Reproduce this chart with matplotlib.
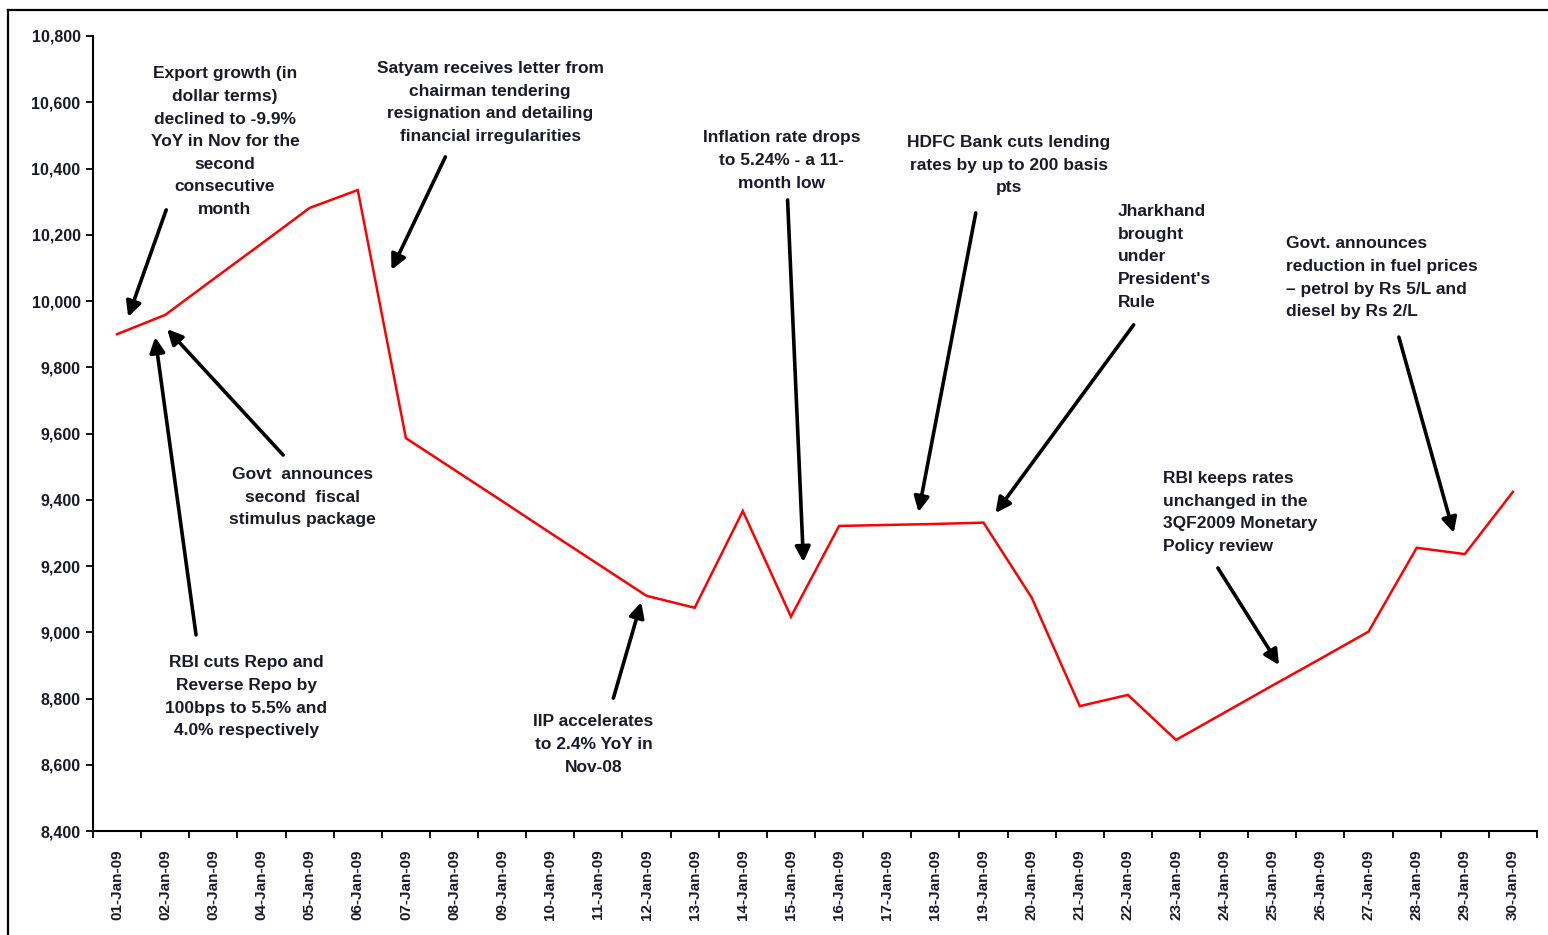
import matplotlib
matplotlib.use("Agg")
import matplotlib.pyplot as plt
from matplotlib.lines import Line2D
from matplotlib.ticker import FuncFormatter, FixedLocator

# ---------------- data ----------------
dates = ["01-Jan-09", "02-Jan-09", "03-Jan-09", "04-Jan-09", "05-Jan-09", "06-Jan-09",
         "07-Jan-09", "08-Jan-09", "09-Jan-09", "10-Jan-09", "11-Jan-09", "12-Jan-09",
         "13-Jan-09", "14-Jan-09", "15-Jan-09", "16-Jan-09", "17-Jan-09", "18-Jan-09",
         "19-Jan-09", "20-Jan-09", "21-Jan-09", "22-Jan-09", "23-Jan-09", "24-Jan-09",
         "25-Jan-09", "26-Jan-09", "27-Jan-09", "28-Jan-09", "29-Jan-09", "30-Jan-09"]
index_values = [9900, 9958, 10066, 10173, 10281, 10335,
                9586, 9491, 9396, 9300, 9205, 9110,
                9074, 9366, 9047, 9321, 9324, 9327,
                9331, 9105, 8777, 8811, 8675, 8757,
                8839, 8920, 9002, 9255, 9236, 9424]
y_ticks = list(range(8400, 10801, 200))

# annotations: text, text anchor (x, y), alignment, arrow tail, arrow head
notes = [
    ("Export growth (in\ndollar terms)\ndeclined to -9.9%\nYoY in Nov for the\nsecond\nconsecutive\nmonth",
     (2.24, 10708), "center", (1.02, 10275), (0.23, 9952)),
    ("RBI cuts Repo and\nReverse Repo by\n100bps to 5.5% and\n4.0% respectively",
     (2.68, 8930), "center", (1.64, 8992), (0.79, 9891)),
    ("Govt  announces\nsecond  fiscal\nstimulus package",
     (3.85, 9498), "center", (3.45, 9535), (1.04, 9915)),
    ("Satyam receives letter from\nchairman tendering\nresignation and detailing\nfinancial irregularities",
     (7.75, 10724), "center", (6.82, 10435), (5.70, 10094)),
    ("Inflation rate drops\nto 5.24% - a 11-\nmonth low",
     (13.80, 10515), "center", (13.93, 10305), (14.26, 9212)),
    ("HDFC Bank cuts lending\nrates by up to 200 basis\npts",
     (18.52, 10500), "center", (17.84, 10266), (16.65, 9363)),
    ("Jharkhand\nbrought\nunder\nPresident's\nRule",
     (20.79, 10292), "left", (21.12, 9928), (18.25, 9360)),
    ("Govt. announces\nreduction in fuel prices\n\u2013 petrol by Rs 5/L and\ndiesel by Rs 2/L",
     (24.28, 10195), "left", (26.63, 9891), (27.77, 9300)),
    ("RBI keeps rates\nunchanged in the\n3QF2009 Monetary\nPolicy review",
     (21.72, 9486), "left", (22.87, 9194), (24.14, 8901)),
    ("IIP accelerates\nto 2.4% YoY in\nNov-08",
     (9.90, 8752), "center", (10.31, 8801), (10.89, 9091)),
]

# ---------------- figure ----------------
plt.rcParams['font.family'] = ['Liberation Sans', 'DejaVu Sans']
fig = plt.figure(figsize=(15.48, 9.35), dpi=100)
ax = fig.add_axes([0.0601, 0.1112, 0.9328, 0.8503])

x = list(range(len(dates)))
ax.plot(x, index_values, color="#ff0000", lw=1.8, solid_joinstyle="miter")

ax.set_xlim(-0.5, len(dates) - 0.5)
ax.set_ylim(8400, 10800)

for s in ("top", "right"):
    ax.spines[s].set_visible(False)
for s in ("left", "bottom"):
    ax.spines[s].set_linewidth(1.5)
    ax.spines[s].set_color("black")

ax.set_yticks(y_ticks)
ax.yaxis.set_major_formatter(FuncFormatter(lambda v, p: f"{int(v):,}"))
ax.tick_params(axis="y", direction="out", length=5, width=1.3, labelsize=11.5, pad=4,
               labelcolor="#1a1a2a")
for lab in ax.get_yticklabels():
    lab.set_fontweight("bold")

# x: ticks at category boundaries, labels at centres
ax.xaxis.set_major_locator(FixedLocator([i - 0.5 for i in range(len(dates) + 1)]))
ax.xaxis.set_minor_locator(FixedLocator(x))
ax.set_xticklabels([""] * (len(dates) + 1))
ax.set_xticklabels(dates, minor=True, rotation=90, fontsize=11, fontweight="bold",
                   color="#1a1a2a")
ax.tick_params(axis="x", which="major", direction="out", length=5, width=1.3)
ax.tick_params(axis="x", which="minor", length=0, pad=13)

for text, (tx, ty), ha, tail, head in notes:
    ax.text(tx, ty, text, ha=ha, va="top", fontsize=12.5, fontweight="bold",
            color="#1a1a2a", linespacing=1.63, multialignment=ha)
    ax.annotate("", xy=head, xytext=tail,
                arrowprops=dict(arrowstyle="-|>,head_length=0.9,head_width=0.45",
                                color="black", lw=2.6, shrinkA=0, shrinkB=0))

# outer frame (top and left edges)
fig.add_artist(Line2D([0.0052, 1.0], [0.9893, 0.9893], transform=fig.transFigure,
                      color="black", lw=1.6))
fig.add_artist(Line2D([0.0052, 0.0052], [0.0, 0.9893], transform=fig.transFigure,
                      color="black", lw=1.6))

fig.savefig("out.png", dpi=100)
